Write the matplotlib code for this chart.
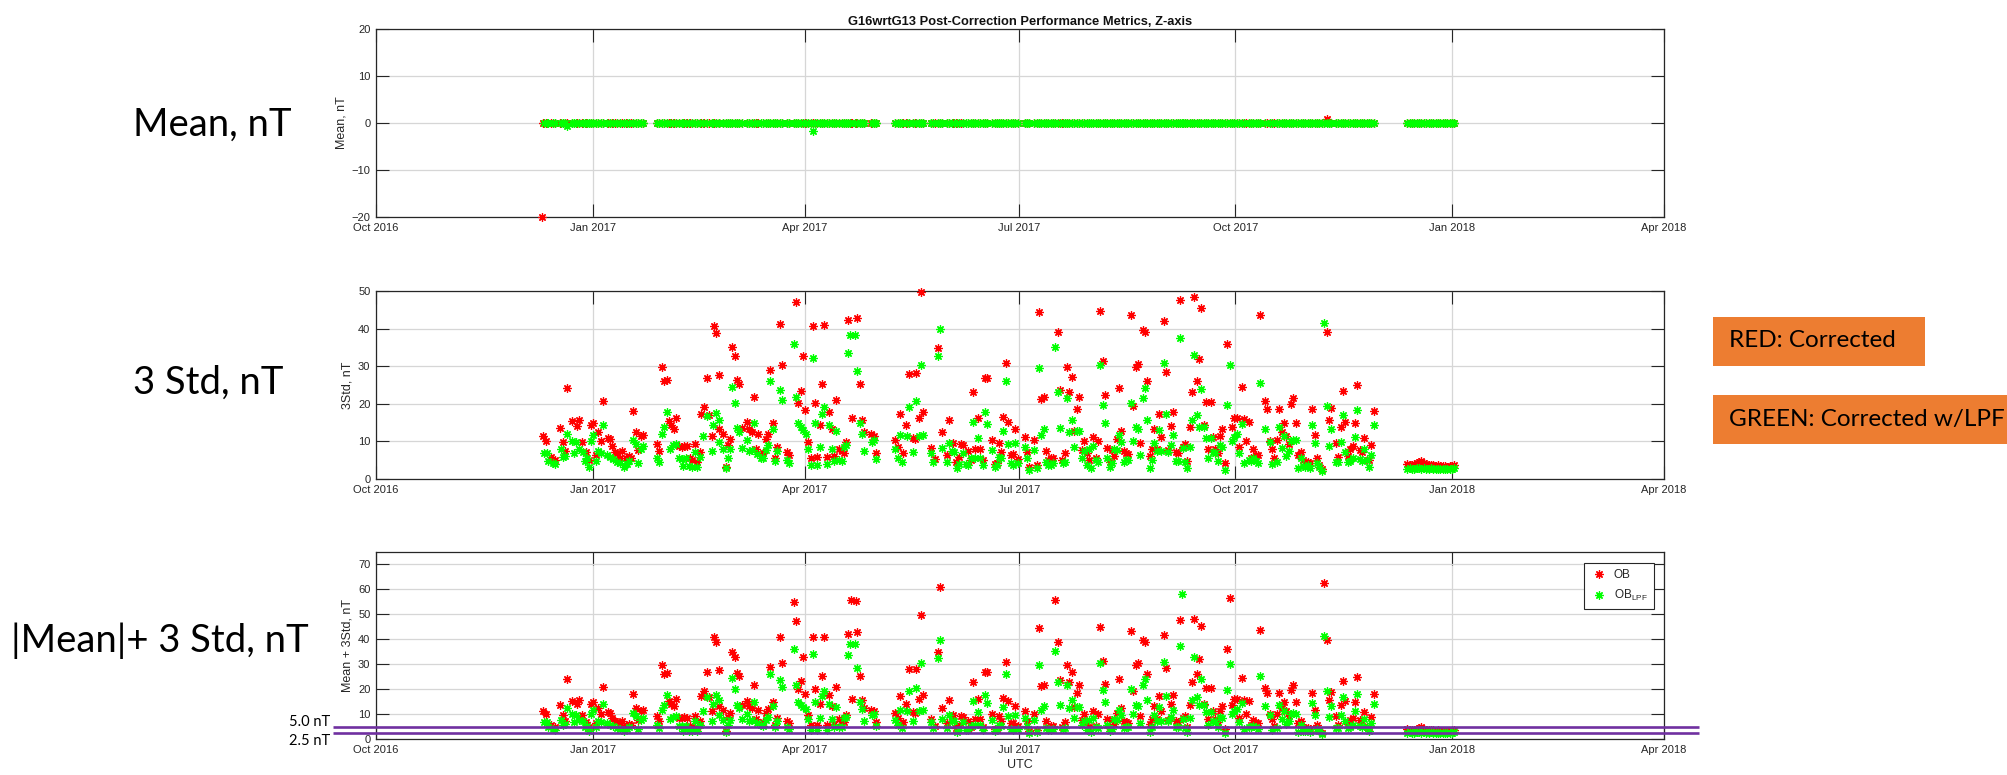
import numpy as np
import matplotlib
matplotlib.use("Agg")
import matplotlib.pyplot as plt
from matplotlib.transforms import blended_transform_factory
from matplotlib.patches import Rectangle
from matplotlib.lines import Line2D

plt.rcParams["font.family"] = ["Liberation Sans", "DejaVu Sans"]
plt.rcParams["mathtext.fontset"] = "custom"
plt.rcParams["mathtext.rm"] = "Liberation Sans"
plt.rcParams["mathtext.it"] = "Liberation Sans"
plt.rcParams["mathtext.default"] = "regular"

# ---------------------------------------------------------------- data
# Sample times are given in days since EPOCH.
EPOCH = np.datetime64("2016-10-01T00:00:00")

X_LIMITS = ["2016-10-01", "2018-04-01"]
X_TICKS = ["2016-10-01", "2017-01-01", "2017-04-01", "2017-07-01",
           "2017-10-01", "2018-01-01", "2018-04-01"]
X_TICK_LABELS = ["Oct 2016", "Jan 2017", "Apr 2017", "Jul 2017",
                 "Oct 2017", "Jan 2018", "Apr 2018"]

# OB (corrected): 3-sigma of the residual, nT
ob_day = [
    71.1, 72.2, 74.2, 76.0, 78.3, 79.3, 80.4, 81.3, 83.2, 85.2,
    86.4, 87.3, 89.2, 90.3, 91.3, 92.3, 93.3, 94.4, 95.4, 96.3,
    98.7, 99.4, 100.2, 101.5, 102.5, 103.6, 104.5, 106.2, 107.6, 108.4,
    109.3, 110.4, 111.4, 112.5, 113.5, 119.2, 120.3, 121.3, 122.5, 123.4,
    124.4, 125.4, 126.4, 127.4, 128.7, 129.8, 130.9, 132.1, 133.4, 134.3,
    135.3, 136.3, 137.5, 138.2, 139.3, 140.4, 141.6, 142.6, 143.4, 144.4,
    145.5, 145.8, 147.5, 148.5, 149.4, 150.3, 151.3, 152.5, 153.5, 154.3,
    155.3, 157.4, 158.6, 159.5, 160.4, 161.4, 162.4, 164.5, 165.5, 166.3,
    167.5, 168.5, 169.5, 170.4, 171.4, 172.4, 174.4, 175.4, 177.4, 178.4,
    179.4, 180.5, 181.5, 182.3, 183.6, 184.6, 185.4, 186.4, 187.4, 188.6,
    189.4, 190.4, 191.5, 192.5, 193.5, 194.5, 195.5, 196.6, 197.8, 198.6,
    199.5, 200.5, 201.6, 202.3, 203.9, 204.4, 205.4, 206.4, 207.4, 210.2,
    211.4, 212.5, 220.4, 221.6, 222.5, 223.7, 225.0, 226.5, 227.9, 228.9,
    229.3, 230.5, 231.4, 232.4, 235.6, 237.4, 238.5, 239.5, 240.5, 242.4,
    243.5, 245.2, 246.3, 247.5, 248.6, 249.4, 251.5, 252.5, 253.4, 254.5,
    255.5, 256.5, 257.6, 258.6, 259.6, 261.6, 262.7, 263.6, 264.6, 265.6,
    266.4, 267.5, 268.5, 269.5, 270.7, 271.5, 272.5, 275.5, 276.5, 277.5,
    279.6, 280.6, 281.6, 282.6, 283.5, 284.5, 285.5, 286.5, 287.5, 288.3,
    289.6, 290.5, 291.5, 292.5, 293.5, 294.4, 295.6, 296.4, 297.6, 298.6,
    299.7, 300.5, 301.8, 302.7, 304.6, 305.6, 306.8, 307.6, 308.6, 309.6,
    310.6, 311.6, 312.6, 313.6, 314.5, 315.5, 316.5, 317.5, 318.5, 319.5,
    320.5, 321.6, 322.6, 323.6, 324.6, 325.6, 326.6, 327.6, 328.6, 329.6,
    330.5, 331.5, 332.5, 333.5, 334.5, 335.5, 336.5, 337.6, 338.6, 339.6,
    340.6, 341.6, 342.6, 343.6, 344.6, 345.6, 346.5, 347.5, 348.5, 349.5,
    350.5, 351.5, 352.5, 353.5, 354.5, 355.5, 356.5, 357.4, 358.4, 359.4,
    360.5, 361.5, 362.5, 363.5, 364.5, 365.5, 366.6, 367.6, 368.8, 369.6,
    370.6, 371.6, 372.6, 373.6, 374.7, 375.6, 377.5, 378.5, 379.7, 380.7,
    381.5, 382.8, 383.6, 384.6, 385.6, 386.5, 387.6, 388.6, 389.6, 390.7,
    391.7, 392.7, 393.8, 394.7, 395.7, 396.6, 397.6, 398.6, 399.6, 400.6,
    401.6, 402.5, 403.7, 404.7, 405.7, 407.7, 408.7, 409.7, 410.5, 411.7,
    412.6, 413.6, 414.8, 415.8, 416.8, 417.7, 418.7, 419.7, 420.7, 421.7,
    422.7, 423.8, 438, 439, 440, 441, 442, 443, 444, 445,
    446, 447, 448, 449, 450, 451, 452, 453, 454, 455,
    456, 457, 458,
]
ob_std3 = [
    11.5, 10.1, 5.9, 5.1, 13.6, 9.9, 7.5, 24.3, 15.5, 14.2,
    15.8, 9.9, 7.1, 5.0, 14.3, 15.0, 6.5, 12.5, 10.1, 20.8,
    11.0, 10.6, 8.7, 7.2, 6.8, 5.5, 7.5, 5.7, 6.1, 5.7,
    18.2, 12.5, 7.7, 11.5, 11.7, 9.4, 7.5, 29.9, 26.1, 26.4,
    15.5, 14.3, 13.3, 16.2, 8.7, 8.5, 8.8, 8.7, 5.5, 5.0,
    9.2, 4.6, 7.2, 17.4, 19.2, 26.9, 17.0, 11.4, 40.8, 38.8,
    13.4, 27.6, 11.9, 3.3, 9.0, 10.6, 35.1, 32.8, 26.4, 25.2,
    13.6, 15.2, 13.4, 12.5, 21.9, 8.1, 11.9, 6.8, 10.6, 12.1,
    29.0, 15.0, 5.7, 8.6, 41.1, 30.4, 7.2, 6.4, 54.8, 47.2,
    20.1, 23.5, 32.8, 18.3, 9.9, 5.7, 40.8, 20.2, 5.9, 14.3,
    25.2, 41.0, 5.9, 17.7, 13.3, 6.1, 21.1, 8.1, 7.5, 6.8,
    9.9, 42.2, 55.7, 16.3, 55.5, 42.8, 25.4, 15.8, 12.5, 11.9,
    11.5, 6.8, 10.5, 8.4, 17.2, 7.0, 14.3, 28.0, 10.8, 10.6,
    28.2, 16.3, 49.8, 17.8, 8.3, 5.3, 34.8, 61.1, 12.5, 6.4,
    15.8, 9.6, 4.6, 5.9, 9.3, 9.0, 7.5, 5.0, 23.1, 8.1,
    16.1, 8.1, 5.0, 26.9, 26.9, 10.3, 4.0, 4.3, 9.5, 7.2,
    16.5, 30.8, 15.2, 6.4, 6.6, 13.4, 5.3, 11.2, 7.2, 3.3,
    10.3, 3.7, 44.5, 21.4, 21.8, 7.4, 5.0, 5.5, 5.5, 55.7,
    39.0, 23.6, 5.0, 6.8, 29.7, 23.1, 27.0, 12.8, 18.7, 21.7,
    7.7, 10.1, 6.8, 5.0, 11.2, 5.5, 10.1, 44.8, 31.3, 22.3,
    8.3, 4.4, 7.7, 6.1, 10.6, 24.3, 12.7, 7.5, 6.8, 6.6,
    43.5, 19.4, 29.8, 30.7, 9.5, 39.7, 39.0, 26.2, 6.2, 8.0,
    13.4, 8.1, 17.2, 11.2, 41.9, 28.4, 7.7, 14.1, 17.7, 7.2,
    7.0, 47.7, 8.6, 9.3, 4.9, 13.9, 23.1, 48.3, 26.0, 32.0,
    45.5, 14.3, 20.5, 8.0, 20.5, 11.2, 8.0, 6.8, 11.5, 13.3,
    4.3, 36.0, 56.4, 13.9, 16.1, 16.3, 8.6, 24.6, 15.9, 10.2,
    15.2, 5.7, 7.9, 6.4, 6.4, 43.6, 20.7, 18.7, 10.1, 8.0,
    5.5, 10.3, 18.7, 12.5, 15.0, 11.4, 9.2, 19.9, 21.6, 14.8,
    6.4, 7.2, 5.0, 4.6, 4.6, 4.2, 18.7, 11.8, 5.7, 3.7,
    2.7, 62.4, 39.0, 15.6, 18.9, 9.5, 5.9, 13.9, 23.4, 15.2,
    6.1, 7.9, 8.7, 14.9, 25.1, 7.7, 7.2, 11.0, 5.0, 5.0,
    9.0, 18.1, 4.0, 3.8, 3.6, 3.9, 4.2, 4.5, 4.8, 4.3,
    3.9, 3.7, 3.8, 3.6, 3.5, 3.7, 3.5, 3.4, 3.5, 3.3,
    3.4, 3.5, 3.8,
]

# OB_LPF (corrected, low-pass filtered): 3-sigma of the residual, nT
lpf_day = [
    71.3, 72.5, 73.2, 75.0, 76.2, 78.4, 79.6, 80.4, 81.3, 83.1,
    84.2, 84.9, 86.1, 87.8, 88.8, 89.8, 90.3, 91.3, 92.3, 93.4,
    94.4, 95.4, 96.3, 98.2, 99.4, 100.8, 102.5, 103.6, 105.5, 106.5,
    107.6, 109.3, 110.4, 111.4, 112.5, 113.5, 119.2, 120.3, 121.3, 122.5,
    123.4, 124.9, 126.3, 127.4, 128.7, 129.8, 130.5, 131.7, 133.1, 134.3,
    135.3, 136.3, 137.5, 138.7, 140.4, 142.6, 143.3, 144.4, 145.5, 145.8,
    147.5, 148.5, 149.4, 150.3, 151.3, 152.5, 153.5, 154.3, 155.3, 157.4,
    158.6, 159.5, 160.4, 161.7, 163.5, 164.5, 165.5, 166.3, 167.5, 168.5,
    169.5, 170.4, 171.4, 172.4, 174.4, 175.4, 177.4, 178.4, 179.4, 180.5,
    181.5, 182.5, 183.6, 184.6, 185.4, 186.4, 187.4, 188.4, 189.6, 190.4,
    191.5, 192.5, 193.5, 194.5, 195.5, 196.6, 197.8, 198.6, 199.5, 200.5,
    201.3, 203.4, 204.4, 205.4, 206.4, 207.4, 210.5, 211.4, 212.5, 220.6,
    221.6, 222.5, 223.5, 225.6, 226.5, 227.9, 229.3, 230.5, 231.4, 232.4,
    235.6, 236.7, 238.5, 239.5, 240.5, 242.4, 243.5, 244.5, 245.5, 246.6,
    247.5, 249.4, 250.4, 251.5, 252.5, 253.4, 254.5, 255.5, 256.5, 257.6,
    258.5, 259.6, 261.6, 262.7, 263.6, 264.6, 265.6, 266.4, 267.5, 268.5,
    269.5, 270.7, 271.5, 272.5, 275.5, 276.5, 277.5, 279.6, 280.6, 281.6,
    282.6, 283.5, 284.5, 285.5, 286.5, 287.5, 288.5, 289.6, 290.6, 291.6,
    292.5, 293.5, 294.4, 295.6, 296.4, 297.6, 298.6, 299.7, 300.5, 301.8,
    302.7, 303.6, 304.6, 305.6, 306.8, 307.6, 308.6, 309.6, 310.6, 311.6,
    312.6, 313.6, 314.5, 315.5, 316.5, 317.5, 318.5, 319.5, 320.5, 321.6,
    322.6, 323.6, 324.6, 325.6, 326.6, 327.6, 328.6, 329.6, 330.5, 331.5,
    332.5, 333.5, 334.5, 335.5, 336.5, 337.6, 338.6, 339.6, 340.6, 341.6,
    342.3, 342.6, 343.6, 344.6, 345.6, 346.5, 347.5, 348.5, 349.5, 350.5,
    351.5, 352.5, 353.5, 354.5, 355.5, 356.5, 357.4, 358.4, 359.4, 360.5,
    361.5, 362.5, 363.5, 364.5, 365.5, 366.6, 367.6, 368.8, 370.6, 371.6,
    372.6, 373.6, 374.7, 375.6, 377.5, 379.7, 380.7, 382.8, 383.6, 384.6,
    385.6, 386.5, 387.6, 388.6, 389.6, 390.7, 391.7, 392.7, 393.8, 394.7,
    395.7, 396.6, 397.6, 398.6, 399.6, 400.6, 401.6, 402.7, 403.7, 404.7,
    405.7, 407.7, 408.7, 409.7, 410.5, 411.7, 412.6, 413.6, 414.8, 415.8,
    416.8, 417.7, 418.7, 419.7, 420.7, 421.7, 422.7, 423.8, 438, 439,
    440, 441, 442, 443, 444, 445, 446, 447, 448, 449,
    450, 451, 452, 453, 454, 455, 456, 457, 458,
]
lpf_std3 = [
    6.8, 6.8, 4.9, 4.2, 3.9, 7.9, 5.9, 6.1, 11.9, 10.1,
    7.0, 9.9, 7.9, 7.2, 4.9, 5.5, 3.3, 10.1, 11.7, 4.9,
    7.4, 7.0, 14.3, 6.4, 5.9, 5.3, 4.6, 4.3, 3.3, 4.0,
    4.9, 10.5, 9.2, 4.2, 7.9, 8.7, 5.7, 4.4, 11.9, 13.8,
    17.8, 8.1, 9.0, 9.2, 5.5, 5.3, 3.4, 5.5, 3.4, 3.3,
    7.2, 3.3, 5.9, 11.4, 16.8, 7.5, 14.3, 17.6, 9.9, 15.6,
    7.9, 2.8, 5.7, 7.9, 24.6, 20.1, 13.6, 12.4, 8.3, 10.3,
    7.5, 7.7, 14.8, 6.6, 5.7, 5.5, 7.7, 9.0, 26.2, 13.3,
    4.9, 7.5, 23.7, 21.1, 5.0, 4.2, 36.0, 21.8, 14.8, 13.9,
    13.0, 12.1, 8.1, 3.7, 32.2, 14.8, 3.7, 8.4, 17.4, 19.2,
    3.9, 14.3, 8.0, 4.9, 12.8, 5.0, 4.8, 8.6, 9.0, 33.6,
    38.3, 38.3, 28.6, 15.0, 12.1, 7.5, 9.9, 10.3, 5.3, 7.9,
    5.7, 11.7, 4.6, 11.5, 19.2, 7.2, 20.7, 11.5, 30.4, 11.7,
    6.8, 4.6, 32.6, 39.8, 8.3, 4.6, 9.7, 7.4, 7.2, 2.8,
    3.9, 6.8, 3.9, 3.7, 5.5, 15.2, 5.7, 11.0, 5.7, 3.7,
    17.8, 14.6, 7.7, 3.3, 3.7, 5.9, 5.5, 12.8, 26.1, 9.2,
    4.2, 3.7, 9.7, 4.3, 8.4, 5.5, 2.4, 7.7, 2.8, 29.6,
    11.7, 13.3, 4.6, 3.7, 3.7, 4.2, 35.2, 23.1, 13.7, 4.2,
    4.6, 21.6, 12.5, 15.7, 8.4, 12.8, 12.8, 5.7, 7.5, 3.7,
    7.9, 2.8, 8.7, 5.0, 4.6, 30.4, 19.6, 15.0, 5.7, 3.3,
    4.2, 8.0, 7.7, 11.7, 9.9, 4.6, 5.0, 5.0, 20.1, 10.2,
    13.9, 13.4, 6.5, 21.6, 24.3, 15.6, 2.8, 5.0, 9.6, 7.5,
    13.0, 7.4, 30.8, 17.2, 7.2, 9.0, 11.7, 4.8, 4.9, 37.5,
    58.0, 8.3, 4.6, 2.8, 8.4, 15.6, 33.0, 17.1, 13.9, 24.0,
    13.9, 11.0, 5.7, 10.8, 7.2, 6.8, 4.9, 9.0, 8.4, 2.4,
    19.8, 30.2, 10.2, 11.2, 12.1, 6.8, 14.6, 4.2, 5.0, 4.8,
    5.5, 4.9, 4.2, 25.5, 13.3, 9.9, 3.9, 4.6, 13.9, 8.3,
    11.5, 6.2, 7.5, 10.1, 10.5, 10.3, 3.0, 5.7, 3.5, 3.3,
    3.7, 3.0, 14.5, 9.7, 4.2, 3.3, 2.1, 41.5, 19.4, 8.8,
    13.3, 4.6, 4.4, 9.9, 17.0, 7.2, 4.6, 4.8, 5.7, 11.2,
    18.3, 5.3, 4.9, 8.0, 5.0, 3.3, 6.5, 14.3, 2.7, 2.8,
    2.6, 2.7, 2.9, 2.8, 2.7, 2.8, 2.6, 2.7, 2.8, 2.6,
    2.7, 2.6, 2.7, 2.6, 2.7, 2.6, 2.6, 2.7, 2.8,
]

# Residual mean, nT: 0.0 on every sampled day except the days listed here
ob_mean_day = [403.7]
ob_mean_val = [0.8]
lpf_mean_day = [81.3, 185.4]
lpf_mean_val = [-0.7, -1.8]
# OB mean sample with no matching 3-sigma value
ob_mean_only_day = [70.4]
ob_mean_only_val = [-19.9]

LIMIT_LEVELS = [5.0, 2.5]          # nT requirement lines
LIMIT_LABELS = ["5.0 nT", "2.5 nT"]


# ---------------------------------------------------------------- helpers
def to_time(days):
    secs = np.round(np.asarray(days, dtype=float) * 86400.0).astype("int64")
    return EPOCH + secs.astype("timedelta64[s]")


def build_mean(days, nz_day, nz_val):
    days = np.asarray(days, dtype=float)
    mean = np.zeros(days.size)
    for d, v in zip(nz_day, nz_val):
        mean[np.isclose(days, d)] = v
    return mean


ob_mean = build_mean(ob_day, ob_mean_day, ob_mean_val)
lpf_mean = build_mean(lpf_day, lpf_mean_day, lpf_mean_val)
ob_total = np.abs(ob_mean) + np.asarray(ob_std3)
lpf_total = np.abs(lpf_mean) + np.asarray(lpf_std3)

RED = "#ff0000"
GREEN = "#00ff00"
AST = (8, 2, 0)
MK = dict(ls="none", marker=AST, ms=6.0, mew=0.9)
TXT = "#262626"


def style_axes(ax, ylim, yticks, ylabel):
    ax.set_xlim(np.datetime64(X_LIMITS[0]), np.datetime64(X_LIMITS[1]))
    ax.set_xticks([np.datetime64(t) for t in X_TICKS])
    ax.set_xticklabels(X_TICK_LABELS)
    ax.set_ylim(*ylim)
    ax.set_yticks(yticks)
    ax.grid(True, color="#d6d6d6", lw=0.9)
    ax.set_axisbelow(True)
    ax.tick_params(direction="in", length=9.3, width=0.8, top=True,
                   right=True, labelsize=8, pad=4, color="#262626",
                   labelcolor=TXT)
    for sp in ax.spines.values():
        sp.set_linewidth(0.9)
        sp.set_color("#262626")
    ax.set_ylabel(ylabel, fontsize=9, color=TXT, labelpad=3)


def scatter_pair(ax, d_ob, v_ob, d_lpf, v_lpf, lo, hi):
    d_ob, v_ob = np.asarray(d_ob, float), np.asarray(v_ob, float)
    d_lpf, v_lpf = np.asarray(d_lpf, float), np.asarray(v_lpf, float)
    k = (v_ob >= lo) & (v_ob <= hi)
    ax.plot(to_time(d_ob[k]), v_ob[k], color=RED, clip_on=False, zorder=3, **MK)
    k = (v_lpf >= lo) & (v_lpf <= hi)
    ax.plot(to_time(d_lpf[k]), v_lpf[k], color=GREEN, clip_on=False, zorder=4, **MK)


# ---------------------------------------------------------------- figure
fig = plt.figure(figsize=(20.07, 7.75), dpi=100)
L, W = 0.18734, 0.64175
ax1 = fig.add_axes([L, 0.7200, W, 0.2426])
ax2 = fig.add_axes([L, 0.3819, W, 0.2426])
ax3 = fig.add_axes([L, 0.0461, W, 0.2417])

# Mean
style_axes(ax1, (-20, 20), [-20, -10, 0, 10, 20], "Mean, nT")
scatter_pair(ax1,
             list(ob_mean_only_day) + list(ob_day),
             list(ob_mean_only_val) + list(ob_mean),
             lpf_day, lpf_mean, -20, 20)
ax1.set_title("G16wrtG13 Post-Correction Performance Metrics, Z-axis",
              fontsize=9.3, fontweight="bold", pad=3, color="#111111")

# 3 Std
style_axes(ax2, (0, 50), [0, 10, 20, 30, 40, 50], "3Std, nT")
scatter_pair(ax2, ob_day, ob_std3, lpf_day, lpf_std3, 0, 50)

# |Mean| + 3 Std
style_axes(ax3, (0, 75), [0, 10, 20, 30, 40, 50, 60, 70], "Mean + 3Std, nT")
scatter_pair(ax3, ob_day, ob_total, lpf_day, lpf_total, 0, 75)
ax3.set_xlabel("UTC", fontsize=9, color=TXT, labelpad=3)

handles = [Line2D([], [], color=RED, **MK), Line2D([], [], color=GREEN, **MK)]
leg = ax3.legend(handles, ["OB", r"OB$_{\mathrm{LPF}}$"], loc="upper right",
                 bbox_to_anchor=(0.992, 0.941), borderaxespad=0,
                 fancybox=False, framealpha=1, edgecolor="#262626",
                 fontsize=8.5, handlelength=1.4, handletextpad=0.6,
                 borderpad=0.5, labelspacing=0.6)
leg.get_frame().set_linewidth(0.8)
for t in leg.get_texts():
    t.set_color(TXT)

# requirement lines spanning past the plot box
trans = blended_transform_factory(ax3.transAxes, ax3.transData)
for lvl in LIMIT_LEVELS:
    ax3.plot([-0.0334, 1.027], [lvl, lvl], transform=trans, clip_on=False,
             color="#7030A0", lw=1.9, zorder=6, solid_capstyle="butt")
ax3.annotate(LIMIT_LABELS[0], xy=(-0.0675, LIMIT_LEVELS[0]), xycoords=trans,
             xytext=(0, -1.5), textcoords="offset points", ha="left",
             va="bottom", fontsize=10.5, family=["Lato", "DejaVu Sans"],
             annotation_clip=False)
ax3.annotate(LIMIT_LABELS[1], xy=(-0.0675, LIMIT_LEVELS[1]), xycoords=trans,
             xytext=(0, -1.0), textcoords="offset points", ha="left",
             va="top", fontsize=10.5, family=["Lato", "DejaVu Sans"],
             annotation_clip=False)

# row captions on the left
SLIDE = ["Lato", "DejaVu Sans"]
fig.text(133 / 2007, 1 - 125 / 775, "Mean, nT", fontsize=27.5, family=SLIDE,
         ha="left", va="center")
fig.text(133 / 2007, 1 - 383 / 775, "3 Std, nT", fontsize=27.5, family=SLIDE,
         ha="left", va="center")
fig.text(11 / 2007, 1 - 641 / 775, "|Mean|+ 3 Std, nT", fontsize=27.5,
         family=SLIDE, ha="left", va="center")

# colour key boxes on the right
ORANGE = "#ED7D31"
fig.patches.append(Rectangle((1713 / 2007, 1 - 366 / 775), 212 / 2007, 49 / 775,
                             transform=fig.transFigure, facecolor=ORANGE,
                             edgecolor="none"))
fig.patches.append(Rectangle((1713 / 2007, 1 - 444 / 775), 294 / 2007, 49 / 775,
                             transform=fig.transFigure, facecolor=ORANGE,
                             edgecolor="none"))
fig.text(1729 / 2007, 1 - 341 / 775, "RED: Corrected", fontsize=17.5,
         family=SLIDE, ha="left", va="center")
fig.text(1729 / 2007, 1 - 419.5 / 775, "GREEN: Corrected w/LPF", fontsize=17.5,
         family=SLIDE, ha="left", va="center")

fig.savefig("out.png", dpi=100, facecolor="white")
